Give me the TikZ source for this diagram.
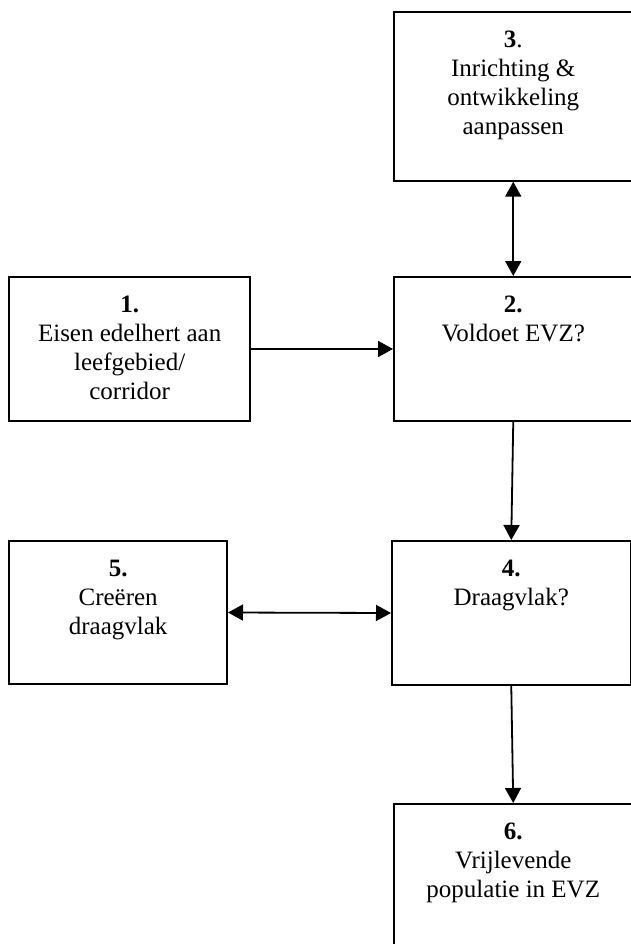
\documentclass[tikz,border=0pt]{standalone}
\usepackage{fontspec}
\setmainfont{Liberation Serif}
\usetikzlibrary{arrows.meta}
\tikzset{
  box/.style={draw=black, line width=2pt, inner sep=0pt, rectangle},
  txt/.style={inner sep=0pt, align=center, anchor=north, font=\fontsize{25}{29}\selectfont},
  conn/.style={line width=1.8pt, -{Triangle[length=15pt,width=16pt]}},
  conn2/.style={line width=1.8pt, {Triangle[length=15pt,width=16pt]}-{Triangle[length=15pt,width=16pt]}},
}
\begin{document}
\begin{tikzpicture}[x=1pt,y=1pt]
\useasboundingbox (0,0) rectangle (631,-944);
% boxes
\node[box, minimum width=238.5pt, minimum height=168.4pt] (b3) at (513.25,-96.5) {};
\node[box, minimum width=238.5pt, minimum height=144pt] (b2) at (513.25,-349) {};
\node[box, minimum width=240.7pt, minimum height=144pt] (b1) at (129.65,-349) {};
\node[box, minimum width=238.5pt, minimum height=144pt] (b4) at (511.25,-613) {};
\node[box, minimum width=217.7pt, minimum height=143pt] (b5) at (118.15,-612.5) {};
\node[box, minimum width=238.5pt, minimum height=160pt] (b6) at (513.25,-884) {};
% texts
\node[txt] (t3) at ([yshift=-19.7pt]b3.north) {\textbf{3}.\\Inrichting \&\\ontwikkeling\\aanpassen};
\node[txt] (t2) at ([yshift=-19.7pt]b2.north) {\textbf{2.}\\Voldoet EVZ?};
\node[txt] (t1) at ([yshift=-19.7pt]b1.north) {\textbf{1.}\\Eisen edelhert aan\\leefgebied/\\corridor};
\node[txt] (t4) at ([yshift=-19.7pt]b4.north) {\textbf{4.}\\Draagvlak?};
\node[txt] (t5) at ([yshift=-19.7pt]b5.north) {\textbf{5.}\\Creëren\\draagvlak};
\node[txt] (t6) at ([yshift=-19.7pt]b6.north) {\textbf{6.}\\Vrijlevende\\populatie in EVZ};
% connectors
\draw[conn2] (b3.south) -- (b2.north);
\draw[conn] (b1.east) -- (b2.west);
\draw[conn] (b2.south) -- (b4.north);
\draw[conn2] (b5.east) -- (b4.west);
\draw[conn] (b4.south) -- (b6.north);
\end{tikzpicture}
\end{document}
